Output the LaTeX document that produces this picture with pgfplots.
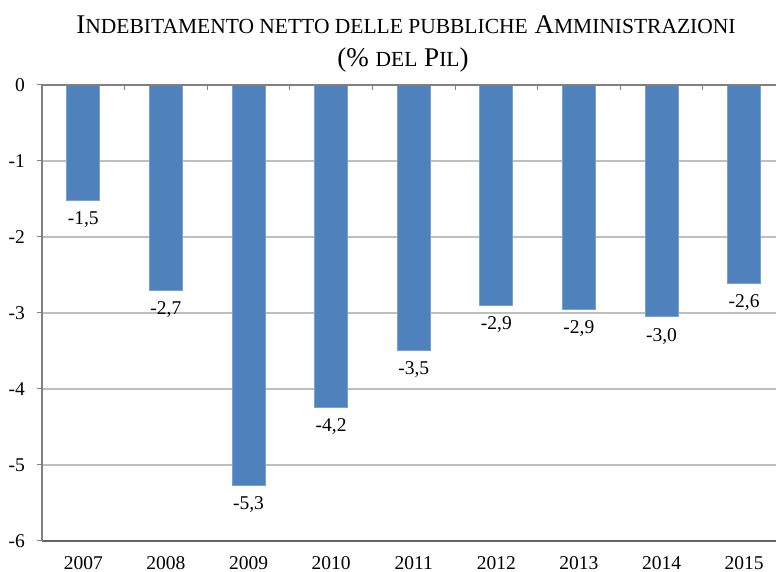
\documentclass[border=0pt]{standalone}
\usepackage{fontspec}
\setmainfont{Liberation Serif}
\usepackage{pgfplots}
\pgfplotsset{compat=1.18}
\definecolor{barblue}{RGB}{79,129,189}
\definecolor{baredge}{RGB}{120,160,210}
\definecolor{gridgray}{RGB}{190,190,190}
\definecolor{axisgray}{RGB}{128,128,128}
\definecolor{darkaxis}{RGB}{100,100,100}
\newcommand\sm[1]{{\fontsize{21.5}{21.5}\selectfont #1}}
\begin{document}
\begin{tikzpicture}
\path[use as bounding box] (0,0) rectangle (776pt,572pt);
\node[anchor=base, font=\fontsize{27}{27}\selectfont, inner sep=0pt] at (406pt,538.7pt)
  {I\sm{NDEBITAMENTO NETTO DELLE PUBBLICHE} A\sm{MMINISTRAZIONI}};
\node[anchor=base, font=\fontsize{27}{27}\selectfont, inner sep=0pt] at (403pt,505.3pt)
  {(\% \sm{DEL} P\sm{IL})};
\begin{axis}[
  scale only axis, width=734pt, height=456pt,
  at={(42pt,31pt)}, anchor=south west,
  xmin=-0.5, xmax=8.386, ymin=-6, ymax=0,
  axis line style={draw=none},
  ytick={-6,-5,-4,-3,-2,-1,0},
  yticklabels={-6,-5,-4,-3,-2,-1,0},
  xtick={0,1,2,3,4,5,6,7,8},
  xticklabels={2007,2008,2009,2010,2011,2012,2013,2014,2015},
  x tick style={draw=none},
  y tick style={draw=axisgray, line width=1pt},
  ytick pos=left,
  tick align=outside,
  major tick length=5pt,
  ymajorgrids,
  grid style={draw=gridgray, line width=1.2pt},
  ticklabel style={font=\fontsize{19.5}{19.5}\selectfont},
  yticklabel style={inner sep=0pt, anchor=east, xshift=-12pt},
  xticklabel style={inner sep=0pt, anchor=north, yshift=-10pt},
  ybar, bar width=33pt,
  clip=false,
]
\addplot[fill=barblue, draw=baredge, line width=0.8pt,
  nodes near coords, point meta=explicit symbolic,
  every node near coord/.append style={anchor=north, inner sep=0pt, yshift=-11pt,
     font=\fontsize{19.5}{19.5}\selectfont, text=black}]
  table[meta=label] {
x y label
0 -1.52 -1,5
1 -2.70 -2,7
2 -5.27 -5,3
3 -4.245 -4,2
4 -3.49 -3,5
5 -2.90 -2,9
6 -2.95 -2,9
7 -3.05 -3,0
8 -2.61 -2,6
};
\draw[axisgray, line width=1.2pt] (axis cs:-0.5,0) -- (axis cs:8.386,0);
\draw[darkaxis, line width=1.2pt] (axis cs:-0.5,-6) -- (axis cs:8.386,-6);
\draw[axisgray, line width=1.5pt] (axis cs:-0.5,-6) -- (axis cs:-0.5,0);
\pgfplotsinvokeforeach{0.5,1.5,2.5,3.5,4.5,5.5,6.5,7.5}{
  \draw[axisgray, line width=1pt] (axis cs:#1,0) -- ([yshift=-5pt]axis cs:#1,0);
}
\end{axis}
\end{tikzpicture}
\end{document}
